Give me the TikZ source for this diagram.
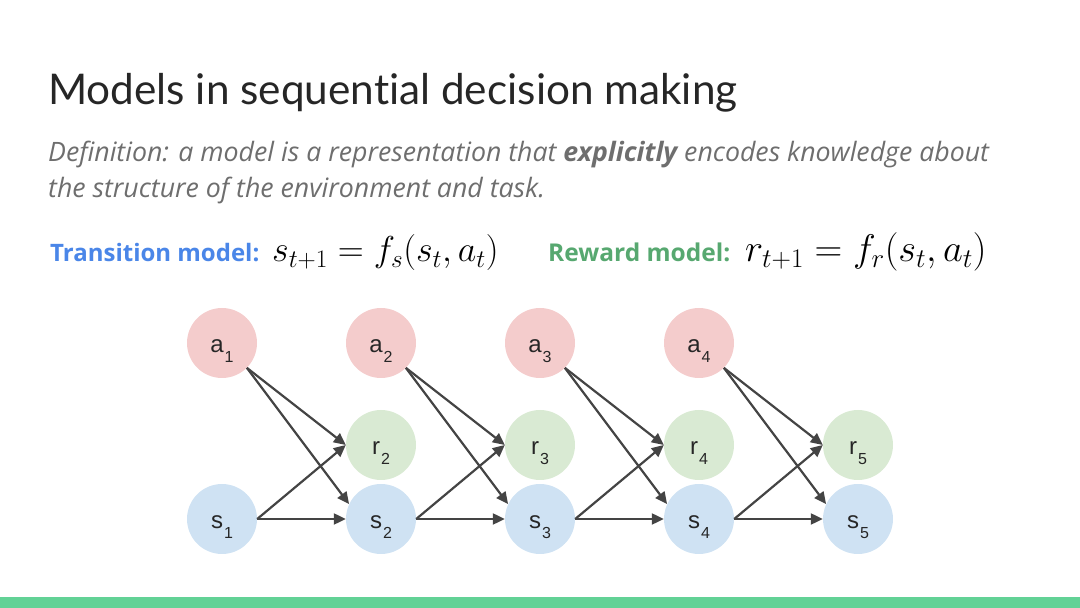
\RequirePackage{fix-cm}
\documentclass[tikz,border=0pt]{standalone}
\usepackage{fontspec}
\setmainfont{Open Sans}[Ligatures=NoCommon]
\newfontfamily\titlefont{Lato}[Ligatures=NoCommon]
\newfontfamily\nodefont{Liberation Sans}
\usetikzlibrary{positioning, arrows.meta}

\definecolor{actred}{HTML}{F4CCCC}
\definecolor{rewgreen}{HTML}{D9EAD3}
\definecolor{stablue}{HTML}{CFE2F3}
\definecolor{linkgray}{HTML}{444444}
\definecolor{titlegray}{HTML}{262626}
\definecolor{defgray}{HTML}{6E6E6E}
\definecolor{transblue}{HTML}{4A86E8}
\definecolor{rewtext}{HTML}{57A870}
\definecolor{barfill}{HTML}{62D296}

\newcommand{\sublab}[2]{#1\hspace{1pt}\raisebox{-10pt}{\fontsize{16}{16}\selectfont #2}}

\tikzset{
  var/.style={circle, minimum size=70pt, inner sep=0pt, text=black!85,
    text height=20pt, text depth=0pt, font=\nodefont\fontsize{24}{24}\selectfont},
  act/.style={var, fill=actred},
  rew/.style={var, fill=rewgreen},
  sta/.style={var, fill=stablue},
  link/.style={-{Triangle[length=12pt,width=11pt]}, line width=2.2pt, draw=linkgray}
}

\begin{document}
\begin{tikzpicture}[x=1pt, y=1pt]
  \useasboundingbox (0,0) rectangle (1080,608);
  \fill[barfill] (0,0) rectangle (1080,11);

  % heading and definition
  \node[anchor=base west, inner sep=0pt, text=titlegray, font=\titlefont\fontsize{42.3}{42.3}\selectfont]
    (title) at (48,503) {Models in sequential decision making};
  \node[anchor=base west, inner sep=0pt, text=defgray, align=left,
    font=\itshape\fontsize{26.7}{36}\selectfont]
    (defn) at (48,410) {Definition: a model is a representation that \textbf{explicitly} encodes knowledge about\\
      the structure of the environment and task.};

  % the two models
  \node[anchor=base west, inner sep=0pt, text=transblue, font=\bfseries\fontsize{24}{24}\selectfont]
    (translab) at (50,346) {Transition model:};
  \node[anchor=base west, inner sep=0pt, font=\fontsize{36}{36}\selectfont]
    (transeq) at (272,346) {$s_{t+1} = f_s(s_t, a_t)$};
  \node[anchor=base west, inner sep=0pt, text=rewtext, font=\bfseries\fontsize{24.5}{24.5}\selectfont]
    (rewlab) at (548,346) {Reward model:};
  \node[anchor=base west, inner sep=0pt, font=\fontsize{38.5}{38.5}\selectfont]
    (reweq) at (745,346) {$r_{t+1} = f_r(s_t, a_t)$};

  % actions
  \node[act] (a1) at (222,265) {\sublab{a}{1}};
  \node[act] (a2) at (381,265) {\sublab{a}{2}};
  \node[act] (a3) at (540,265) {\sublab{a}{3}};
  \node[act] (a4) at (699,265) {\sublab{a}{4}};
  % rewards
  \node[rew] (r2) at (381,163) {\sublab{r}{2}};
  \node[rew] (r3) at (540,163) {\sublab{r}{3}};
  \node[rew] (r4) at (699,163) {\sublab{r}{4}};
  \node[rew] (r5) at (858,163) {\sublab{r}{5}};
  % states
  \node[sta] (s1) at (222,89) {\sublab{s}{1}};
  \node[sta] (s2) at (381,89) {\sublab{s}{2}};
  \node[sta] (s3) at (540,89) {\sublab{s}{3}};
  \node[sta] (s4) at (699,89) {\sublab{s}{4}};
  \node[sta] (s5) at (858,89) {\sublab{s}{5}};

  \draw[link] (a1.-45) -- (r2.west); \draw[link] (a1.-45) -- (s2.155);
  \draw[link] (s1.east) -- (r2.west); \draw[link] (s1.east) -- (s2.west);
  \draw[link] (a2.-45) -- (r3.west); \draw[link] (a2.-45) -- (s3.155);
  \draw[link] (s2.east) -- (r3.west); \draw[link] (s2.east) -- (s3.west);
  \draw[link] (a3.-45) -- (r4.west); \draw[link] (a3.-45) -- (s4.155);
  \draw[link] (s3.east) -- (r4.west); \draw[link] (s3.east) -- (s4.west);
  \draw[link] (a4.-45) -- (r5.west); \draw[link] (a4.-45) -- (s5.155);
  \draw[link] (s4.east) -- (r5.west); \draw[link] (s4.east) -- (s5.west);
\end{tikzpicture}
\end{document}
